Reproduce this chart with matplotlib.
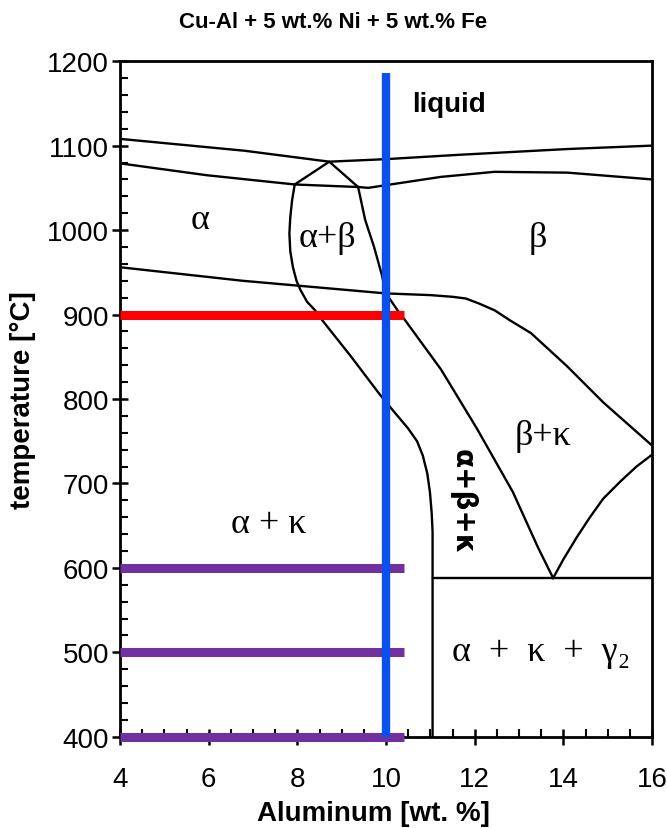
import matplotlib.pyplot as plt
from matplotlib.ticker import MultipleLocator

# phase boundaries, Al wt.% vs temperature
liquidus_al = [4, 6.8, 8.72, 10.0, 11.6, 14.1, 16]
liquidus_t = [1108, 1094, 1081, 1084, 1089, 1096, 1100]

solidus_al = [4, 5.95, 7.94, 9.37, 9.6, 10.1, 11.24, 12.45, 14.1, 16]
solidus_t = [1079, 1065, 1054, 1051, 1050, 1054, 1063, 1069, 1068, 1060]

peak_al = [7.94, 8.72, 9.37]
peak_t = [1054, 1081, 1051]

ab_left_al = [7.94, 7.88, 7.84, 7.82, 7.84, 7.9, 7.98, 8.07, 8.22, 8.4, 8.55, 9.2, 9.85,
              10.1, 10.5, 10.7, 10.83, 10.93, 10.99, 11.03, 11.05, 11.05]
ab_left_t = [1054, 1035, 1015, 996, 975, 956, 940, 929, 915, 905, 894, 851, 806,
             790, 765, 750, 733, 712, 690, 665, 643, 400]

ab_right_al = [9.37, 9.53, 9.73, 9.9, 10.0, 10.26, 10.42, 11.24, 12.05, 12.86, 13.43, 13.77]
ab_right_t = [1051, 1012, 980, 948, 925, 905, 894, 835, 765, 690, 624, 588]

alpha_al = [4, 6.76, 10.0, 11.0, 11.5, 11.8, 12.1, 12.45, 12.8, 13.27, 14.08, 14.9, 16]
alpha_t = [956, 940, 925, 923, 921, 919, 913, 905, 893, 878, 839, 796, 745]

kappa_al = [13.77, 14.0, 14.3, 14.6, 14.9, 15.3, 15.65, 16]
kappa_t = [588, 610, 636, 660, 682, 703, 720, 734]

eutectoid_al = [11.05, 16]
eutectoid_t = [588, 588]

# composition and heat-treatment lines
alloy_al = 10
alloy_t = [400, 1186]
treat_t = [900, 600, 500, 400]
treat_colors = ['#ff0000', '#7030a0', '#7030a0', '#7030a0']
treat_al = [4, 10.4]

fig = plt.figure(figsize=(6.67, 8.29), dpi=100)
ax = fig.add_axes([0.18, 0.11, 0.7975, 0.815])

for xs, ts in [(liquidus_al, liquidus_t), (solidus_al, solidus_t), (peak_al, peak_t),
               (ab_left_al, ab_left_t), (ab_right_al, ab_right_t), (alpha_al, alpha_t),
               (kappa_al, kappa_t), (eutectoid_al, eutectoid_t)]:
    ax.plot(xs, ts, color='black', lw=1.7, zorder=2, solid_joinstyle='round')

for t, c in zip(treat_t, treat_colors):
    ax.plot(treat_al, [t, t], color=c, lw=6.5, solid_capstyle='butt', zorder=3, clip_on=False)
ax.plot([alloy_al, alloy_al], alloy_t, color='#0a50ee', lw=6, solid_capstyle='butt', zorder=4)

serif = 'Liberation Serif'
ax.text(11.42, 1149, 'liquid', fontsize=20, fontweight='bold', family='Liberation Sans',
        ha='center', va='center')
ax.text(5.8, 1013, 'α', fontsize=26, family=serif, ha='center', va='center')
ax.text(8.68, 991, 'α+β', fontsize=26, family=serif, ha='center', va='center')
ax.text(13.43, 991, 'β', fontsize=26, family=serif, ha='center', va='center')
ax.text(13.55, 757, 'β+κ', fontsize=26, family=serif, ha='center', va='center')
ax.text(11.73, 679, 'α+β+κ', fontsize=20, fontweight='bold', family='DejaVu Sans',
        rotation=-90, ha='center', va='center')
ax.text(7.35, 653, 'α + κ', fontsize=26, family=serif, ha='center', va='center')
ax.text(13.5, 501, 'α  +  κ  +  γ₂', fontsize=26, family=[serif, 'DejaVu Serif'],
        ha='center', va='center')

ax.set_xlim(4, 16)
ax.set_ylim(400, 1200)
ax.xaxis.set_major_locator(MultipleLocator(2))
ax.xaxis.set_minor_locator(MultipleLocator(0.5))
ax.yaxis.set_major_locator(MultipleLocator(100))
ax.yaxis.set_minor_locator(MultipleLocator(20))
ax.tick_params(which='major', direction='inout', length=12, width=1.8, labelsize=20,
               top=False, right=False)
ax.tick_params(which='minor', direction='in', length=6, width=1.5, top=False, right=False)
ax.tick_params(axis='x', which='major', pad=15)
ax.tick_params(axis='y', which='major', pad=2)
for lab in ax.get_xticklabels() + ax.get_yticklabels():
    lab.set_family('Liberation Sans')
for s in ax.spines.values():
    s.set_linewidth(2)

ax.set_xlabel('Aluminum [wt. %]', fontsize=20, fontweight='bold', family='Liberation Sans',
              labelpad=6, x=0.477)
ax.set_ylabel('temperature [°C]', fontsize=20, fontweight='bold', family='Liberation Sans',
              labelpad=8)
fig.suptitle('Cu-Al + 5 wt.% Ni + 5 wt.% Fe', x=0.5, y=0.985, fontsize=16,
             fontweight='bold', family='Liberation Sans')

fig.savefig('out.png', dpi=100)
